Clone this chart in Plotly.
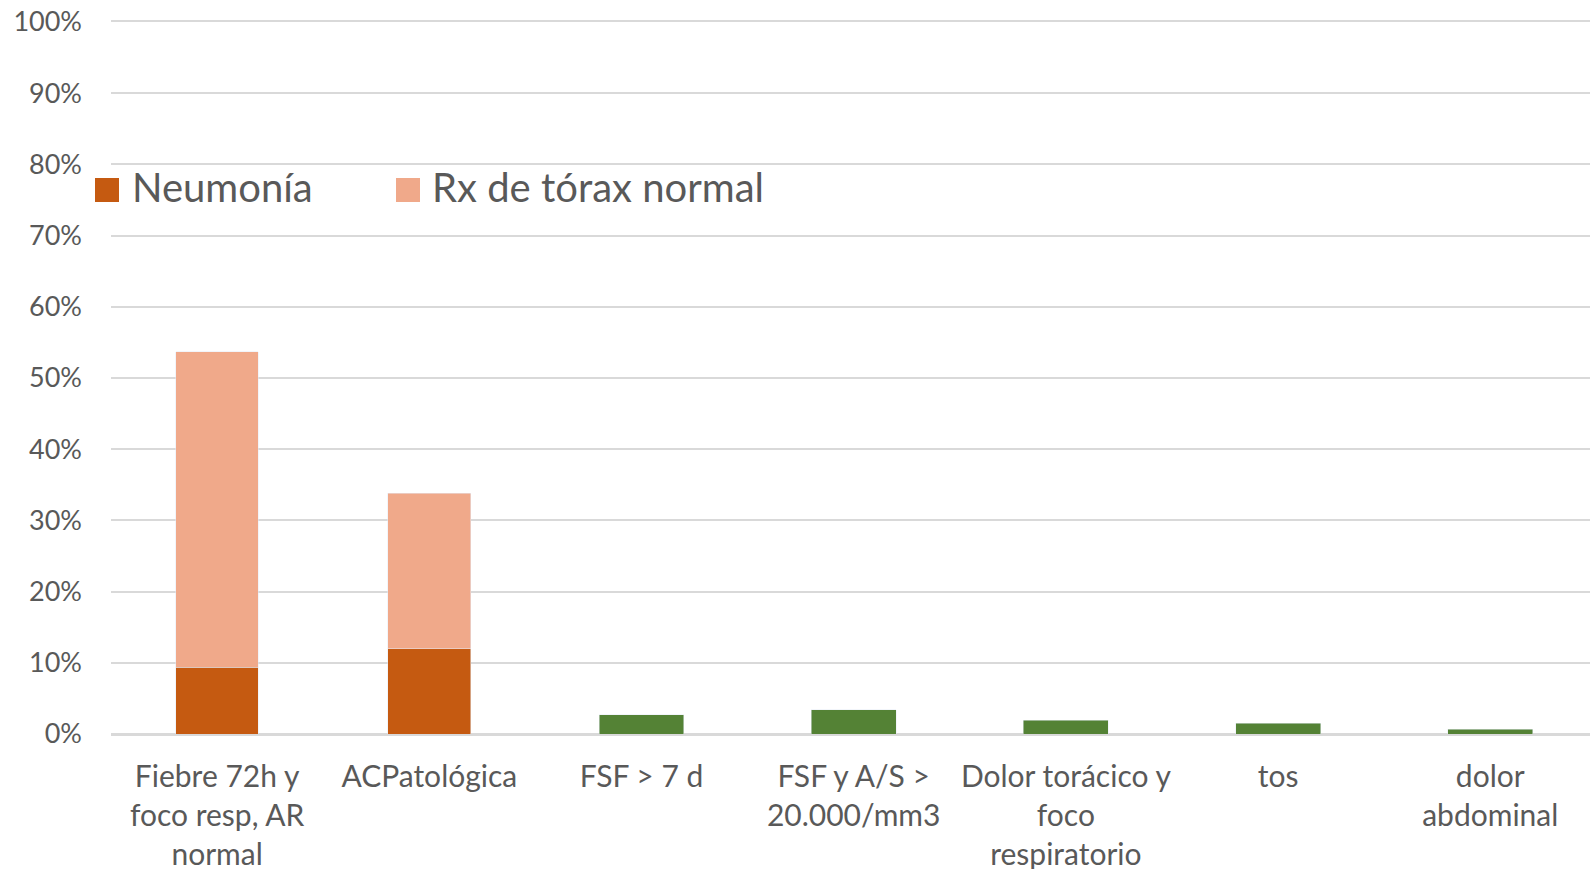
import plotly.graph_objects as go

categories = ["Fiebre 72h y<br>foco resp, AR<br>normal", "ACPatológica", "FSF > 7 d",
              "FSF y A/S ><br>20.000/mm3", "Dolor torácico y<br>foco<br>respiratorio",
              "tos", "dolor<br>abdominal"]
neumonia = [0.094, 0.12, None, None, None, None, None]
rx_normal = [0.443, 0.218, None, None, None, None, None]
otros = [None, None, 0.027, 0.034, 0.019, 0.015, 0.007]
y_ticks = [0, 0.1, 0.2, 0.3, 0.4, 0.5, 0.6, 0.7, 0.8, 0.9, 1.0]
legend_names = ["Neumonía", "Rx de tórax normal"]
legend_colors = ["#C55A11", "#F0A98A"]

font_family = "Lato, 'Open Sans', sans-serif"
W, H = 1590, 878
L, T, B = 111, 22, 144
fig = go.Figure()
fig.add_trace(go.Bar(x=categories, y=neumonia, name=legend_names[0], showlegend=False,
                     marker=dict(color=legend_colors[0]), width=0.39))
fig.add_trace(go.Bar(x=categories, y=rx_normal, name=legend_names[1], showlegend=False,
                     marker=dict(color=legend_colors[1]), width=0.39))
fig.add_trace(go.Bar(x=categories, y=otros, name="Otros", showlegend=False,
                     marker=dict(color="#548235"), width=0.4))

# legend drawn as squares + text (paper coordinates)
pw = W - L
ph = H - T - B
def px_x(x):
    return (x - L) / pw
def px_y(y):
    return 1 - (y - T) / ph

legend_pos = [(95, 130), (396, 430)]  # square left, text left
for (sq, tx), name, col in zip(legend_pos, legend_names, legend_colors):
    fig.add_shape(type="rect", xref="paper", yref="paper",
                  x0=px_x(sq), x1=px_x(sq + 24), y0=px_y(178), y1=px_y(202),
                  fillcolor=col, line=dict(width=0))
    fig.add_annotation(xref="paper", yref="paper", x=px_x(tx), y=px_y(187),
                       xanchor="left", yanchor="middle", showarrow=False,
                       text=name, font=dict(size=40, color="#595959", family=font_family))

fig.update_layout(
    barmode="stack",
    width=W, height=H,
    paper_bgcolor="white", plot_bgcolor="white",
    margin=dict(l=L, r=0, t=T, b=B),
    font=dict(family=font_family, color="#595959"),
    showlegend=False,
)
fig.update_yaxes(range=[0, 1.0], tickvals=y_ticks, tickformat=".0%",
                 showgrid=True, gridcolor="#D9D9D9", gridwidth=2,
                 zeroline=True, zerolinecolor="#D9D9D9", zerolinewidth=2,
                 tickfont=dict(size=27, color="#595959"), ticklabelstandoff=28,
                 showline=False, automargin=False, ticklabeloverflow="allow")
fig.update_xaxes(range=[-0.5, 6.47], tickfont=dict(size=30, color="#595959"),
                 ticklabelstandoff=15, showline=True, mirror=True,
                 linecolor="#D9D9D9", linewidth=2, tickangle=0,
                 automargin=False, ticklabeloverflow="allow")
fig.write_html("out.html", post_script="document.body.style.margin='0';",
               config={"displayModeBar": False})
